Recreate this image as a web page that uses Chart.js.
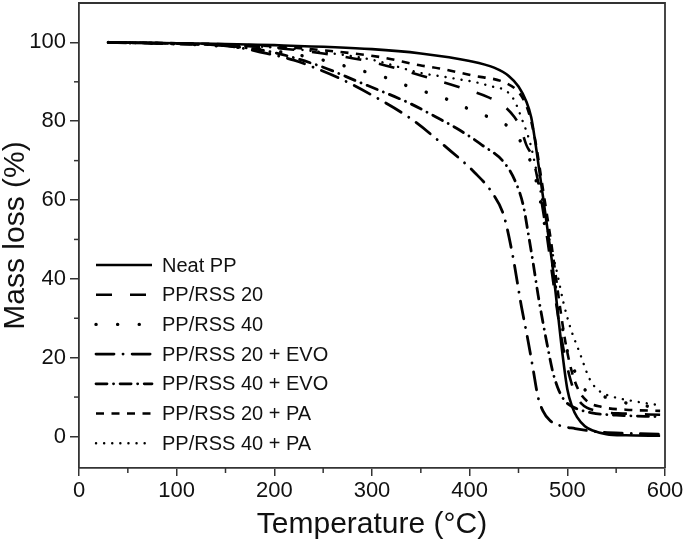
<!DOCTYPE html>
<html>
<head>
<meta charset="utf-8">
<script src="https://cdn.jsdelivr.net/npm/chart.js@4.4.1/dist/chart.umd.min.js"></script>
<style>
  html, body { margin: 0; padding: 0; background: #fff; }
  #c { display: block; }
</style>
</head>
<body>
<canvas id="c" width="685" height="548"></canvas>
<script>
// ---- Data ----
const seriesLabels = ["Neat PP", "PP/RSS 20", "PP/RSS 40", "PP/RSS 20 + EVO", "PP/RSS 40 + EVO", "PP/RSS 20 + PA", "PP/RSS 40 + PA"];

const neatPP_T = [30, 100, 200, 300, 350, 400, 425, 440, 450, 458, 463, 467, 471, 475, 480, 485, 490, 495, 500, 505, 510, 518, 526, 540, 560, 595];
const neatPP_M = [100, 99.8, 99.3, 98.3, 97.2, 95.3, 93.6, 91.5, 88.8, 85, 81, 75, 68, 61, 52, 43, 32, 21, 12, 7.5, 4.9, 2.6, 1.5, 0.6, 0.3, 0.2];

const rss20_T = [30, 100, 200, 250, 300, 350, 390, 420, 432, 446, 452, 458, 464, 469, 474, 479, 484, 489, 494, 500, 507, 515, 530, 560, 595];
const rss20_M = [100, 99.7, 98.6, 97.2, 95, 91.6, 88.6, 86, 84.5, 81, 78.4, 74, 71, 66, 59, 51, 42, 33, 25, 17.5, 11.5, 8.2, 6.5, 5.8, 5.5];

const rss40_T = [30, 100, 150, 200, 250, 288, 308, 327, 347, 367, 387, 407, 428, 445, 456, 463, 468, 473, 478, 484, 489, 494, 499, 506, 516, 533, 560, 595];
const rss40_M = [100, 99.6, 99.0, 97.8, 95.5, 92.9, 91.6, 89.8, 88, 86.5, 84.5, 82.2, 80.2, 77.5, 73.1, 69.3, 65, 59, 52, 45, 36, 29, 22.6, 17.5, 12.4, 10.5, 8.5, 7.3];

const rss20evo_T = [30, 100, 155, 192, 220, 243, 265, 300, 340, 375, 405, 424, 435, 444, 453, 460, 465, 470, 475, 482, 492, 508, 530, 560, 595];
const rss20evo_M = [100, 99.6, 99.0, 97.2, 95.5, 93.4, 91.1, 86.6, 80.6, 73.6, 67, 61.5, 56, 46, 33, 24, 17, 10, 6.5, 4.1, 2.8, 2.0, 1.2, 0.8, 0.6];

const rss40evo_T = [30, 100, 150, 200, 250, 286, 308, 339, 366, 390, 413, 436, 448, 455, 460, 465, 470, 475, 480, 485, 490, 495, 501, 510, 525, 550, 595];
const rss40evo_M = [100, 99.7, 99.2, 97.4, 93.7, 90.0, 87.8, 84.5, 81, 77.7, 73.9, 69.3, 64, 58.5, 51.5, 44, 36, 29, 22.5, 16.5, 12.5, 9.9, 8.2, 7.0, 6.0, 5.4, 5.0];

const rss20pa_T = [30, 100, 200, 250, 308, 349, 369, 403, 438, 451, 458, 463, 468, 473, 478, 483, 488, 493, 498, 504, 511, 520, 535, 560, 595];
const rss20pa_M = [100, 99.8, 99.0, 98.0, 96.3, 94.2, 93.4, 91.6, 89.6, 87.1, 84, 80, 74, 66, 58, 50, 41, 32, 24, 17, 12, 9, 7.5, 6.8, 6.5];

const rss40pa_T = [30, 100, 200, 250, 300, 349, 383, 418, 444, 454, 462, 467, 472, 477, 483, 490, 496, 503, 513, 523, 533, 545, 567, 595];
const rss40pa_M = [100, 99.7, 98.7, 97.5, 95.6, 92.3, 90.9, 89.1, 86, 80.2, 74.4, 69, 63, 56, 48.5, 41, 34, 27.7, 21, 14.5, 11.5, 10.2, 9.0, 7.9];

const xTickValues = [0, 100, 200, 300, 400, 500, 600];
const xMinorValues = [50, 150, 250, 350, 450, 550];
const yTickValues = [0, 20, 40, 60, 80, 100];
const yMinorValues = [10, 30, 50, 70, 90];

// ---- Styles ----
const FONT = "'Liberation Sans', Arial, Helvetica, sans-serif";
const lineStyles = [
  { dash: [], width: 2.6, cap: 'butt' },
  { dash: [16, 18], width: 2.6, cap: 'butt' },
  { dash: [0.1, 21.5], width: 3.4, cap: 'round' },
  { dash: [18, 9, 0.1, 9], width: 2.8, cap: 'round' },
  { dash: [11, 6.5, 0.1, 6.5], width: 2.8, cap: 'round' },
  { dash: [8, 7.5], width: 2.6, cap: 'butt' },
  { dash: [0.1, 8], width: 2.4, cap: 'round' }
];

function zip(T, M) { return T.map((t, i) => ({ x: t, y: M[i] })); }
const allT = [neatPP_T, rss20_T, rss40_T, rss20evo_T, rss40evo_T, rss20pa_T, rss40pa_T];
const allM = [neatPP_M, rss20_M, rss40_M, rss20evo_M, rss40evo_M, rss20pa_M, rss40pa_M];

const datasets = seriesLabels.map((lab, i) => ({
  label: lab,
  data: zip(allT[i], allM[i]),
  borderColor: '#000',
  borderWidth: lineStyles[i].width,
  borderDash: lineStyles[i].dash,
  borderCapStyle: lineStyles[i].cap,
  pointRadius: 0,
  fill: false,
  cubicInterpolationMode: 'monotone'
}));

const frameLegendPlugin = {
  id: 'frameLegend',
  afterDraw(chart) {
    const { ctx, chartArea: a, scales } = chart;
    ctx.save();
    ctx.strokeStyle = '#333';
    ctx.lineWidth = 1.8;
    ctx.setLineDash([]);
    ctx.beginPath();
    ctx.moveTo(a.left, a.top);
    ctx.lineTo(a.right, a.top);
    ctx.lineTo(a.right, a.bottom);
    ctx.stroke();
    ctx.lineWidth = 1.5;
    xMinorValues.forEach(v => {
      const px = scales.x.getPixelForValue(v);
      ctx.beginPath(); ctx.moveTo(px, a.bottom); ctx.lineTo(px, a.bottom + 5); ctx.stroke();
    });
    yMinorValues.forEach(v => {
      const py = scales.y.getPixelForValue(v);
      ctx.beginPath(); ctx.moveTo(a.left, py); ctx.lineTo(a.left - 5, py); ctx.stroke();
    });
    const rowY0 = 265, rowStep = 29.7;
    chart.data.datasets.forEach((ds, i) => {
      const y = rowY0 + i * rowStep;
      ctx.strokeStyle = '#000';
      ctx.lineWidth = ds.borderWidth;
      ctx.lineCap = ds.borderCapStyle;
      ctx.setLineDash(ds.borderDash);
      ctx.beginPath(); ctx.moveTo(96, y); ctx.lineTo(152, y); ctx.stroke();
      ctx.setLineDash([]);
      ctx.fillStyle = '#111';
      ctx.font = "20px " + FONT;
      ctx.textBaseline = 'middle';
      ctx.textAlign = 'left';
      ctx.fillText(ds.label, 162, y + 1);
    });
    ctx.restore();
  }
};

new Chart(document.getElementById('c'), {
  type: 'line',
  data: { datasets },
  options: {
    responsive: false,
    animation: false,
    devicePixelRatio: 1,
    layout: { padding: { left: 0, right: 20, top: 3, bottom: 0 } },
    plugins: { legend: { display: false }, tooltip: { enabled: false } },
    scales: {
      x: {
        type: 'linear', min: 0, max: 600,
        afterBuildTicks: s => { s.ticks = xTickValues.map(v => ({ value: v })); },
        afterFit: s => { s.height = 80; s.paddingLeft = 0; s.paddingRight = 0; },
        grid: { drawOnChartArea: false, drawTicks: true, tickLength: 8, color: '#333', lineWidth: 1.5 },
        border: { display: true, color: '#333', width: 1.8 },
        ticks: { font: { size: 22, family: FONT }, color: '#111', padding: 2, maxRotation: 0, autoSkip: false },
        title: { display: true, text: 'Temperature (°C)', font: { size: 30, family: FONT, lineHeight: 1 }, color: '#111', padding: { top: 0, bottom: 8 } }
      },
      y: {
        type: 'linear', min: -8, max: 110,
        afterBuildTicks: s => { s.ticks = yTickValues.map(v => ({ value: v })); },
        afterFit: s => { s.width = 79; s.paddingTop = 0; s.paddingBottom = 0; },
        grid: { drawOnChartArea: false, drawTicks: true, tickLength: 9, color: '#333', lineWidth: 1.5 },
        border: { display: true, color: '#333', width: 1.8 },
        ticks: { font: { size: 22, family: FONT }, color: '#111', padding: 4, autoSkip: false },
        title: { display: true, text: 'Mass loss (%)', font: { size: 30, family: FONT, lineHeight: 1 }, color: '#111', padding: { top: 1, bottom: 0 } }
      }
    }
  },
  plugins: [frameLegendPlugin]
});
</script>
</body>
</html>
